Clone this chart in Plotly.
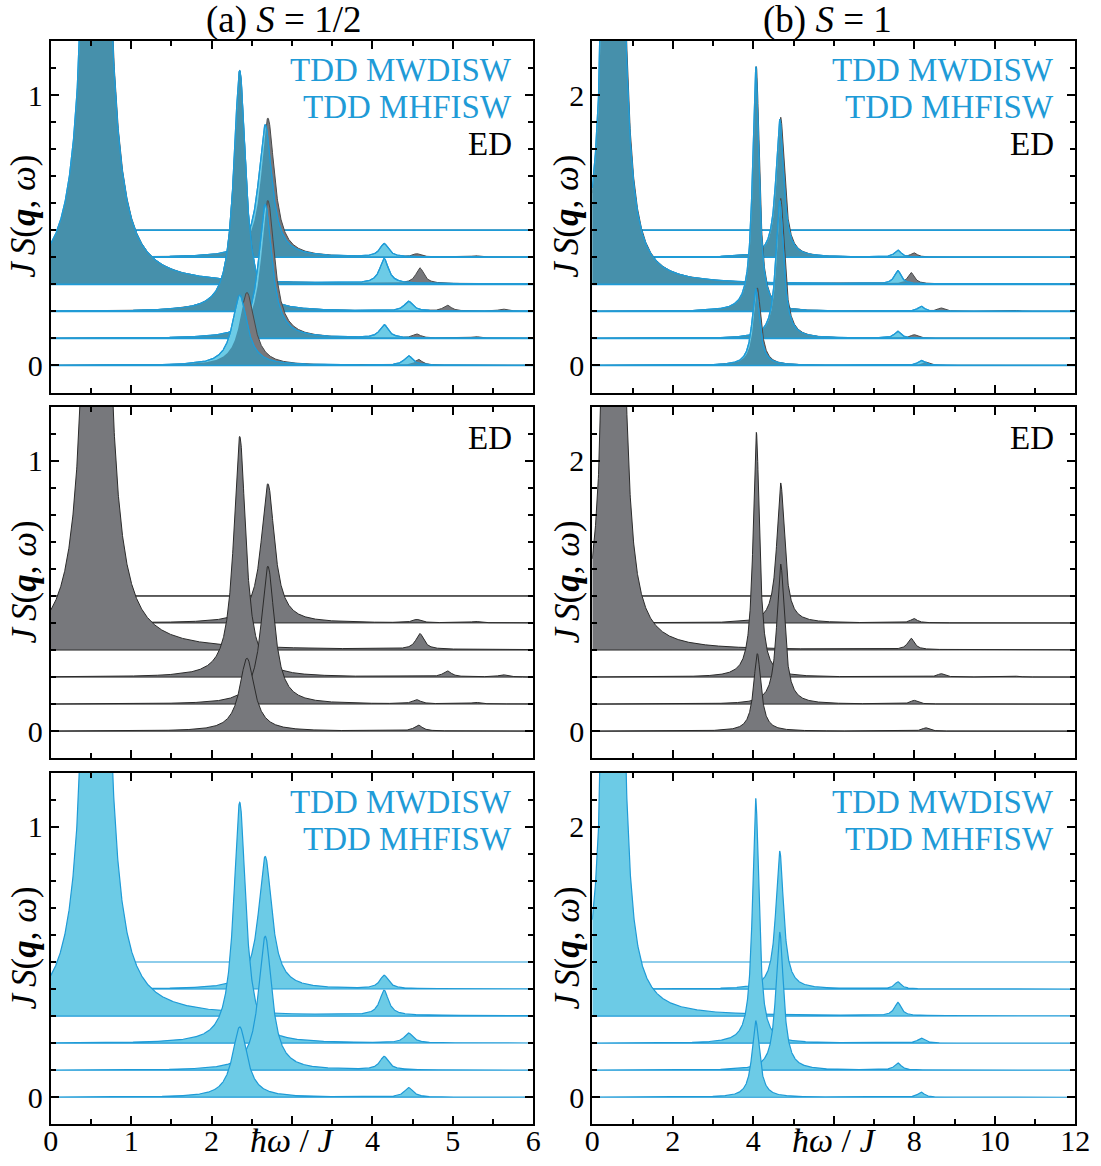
import numpy as np
import plotly.graph_objects as go

# ---------------- data ----------------
# Each spectrum row = list of peaks (centre, peak height, half width) in units of hbar*omega/J.
# Rows are listed from the lowest curve (offset 0) to the highest.
ed_half_rows = [
    [(2.44, 0.27, 0.11), (4.57, 0.022, 0.06)],
    [(2.70, 0.51, 0.10), (4.55, 0.015, 0.06), (5.28, 0.006, 0.06)],
    [(2.35, 0.89, 0.09), (4.93, 0.022, 0.06), (5.62, 0.008, 0.06)],
    [(0.57, 3.70, 0.116), (4.59, 0.058, 0.06)],
    [(2.70, 0.515, 0.10), (4.55, 0.012, 0.06), (5.28, 0.005, 0.06)],
    [],
]
tdd_half_rows = [
    [(2.35, 0.26, 0.11), (4.45, 0.035, 0.065)],
    [(2.667, 0.495, 0.10), (4.145, 0.049, 0.065)],
    [(2.35, 0.89, 0.09), (4.45, 0.036, 0.065)],
    [(0.565, 3.70, 0.116), (4.145, 0.092, 0.065)],
    [(2.667, 0.49, 0.10), (4.145, 0.049, 0.065)],
    [],
]
ed_one_rows = [
    [(4.10, 0.573, 0.11), (8.28, 0.025, 0.10)],
    [(4.68, 1.036, 0.115), (7.99, 0.027, 0.10), (10.6, 0.005, 0.10)],
    [(4.075, 1.81, 0.095), (8.66, 0.025, 0.10), (10.55, 0.006, 0.10)],
    [(0.535, 23.0, 0.093), (7.92, 0.084, 0.10)],
    [(4.68, 1.036, 0.115), (7.99, 0.032, 0.10)],
    [],
]
tdd_one_rows = [
    [(4.06, 0.566, 0.11), (8.17, 0.037, 0.10)],
    [(4.656, 1.02, 0.115), (7.59, 0.052, 0.10)],
    [(4.06, 1.81, 0.095), (8.17, 0.037, 0.10)],
    [(0.52, 23.0, 0.093), (7.59, 0.098, 0.10)],
    [(4.656, 1.02, 0.115), (7.59, 0.052, 0.10)],
    [],
]
offsets_half = [0.0, 0.1, 0.2, 0.3, 0.4, 0.5]
offsets_one = [0.0, 0.2, 0.4, 0.6, 0.8, 1.0]

x_range_half = [0, 6]
x_range_one = [0, 12]
y_range_half = [-0.1, 1.2]
y_range_one = [-0.2, 2.4]
xtick_half = [0, 1, 2, 3, 4, 5, 6]
xtick_one = [0, 2, 4, 6, 8, 10, 12]
xticktext_half = ["0", "1", "2", "", "4", "5", "6"]
xticktext_one = ["0", "2", "4", "", "8", "10", "12"]
xlabel = "<i>ħω</i> / <i>J</i>"
ytick_half = [0, 1]
ytick_one = [0, 2]
titles = ["(a) <i>S</i> = 1/2", "(b) <i>S</i> = 1"]
ylabel = "<i>J</i>\u2009<i>S</i>(<b><i>q</i></b>, <i>ω</i>)"
legend_tdd = ["TDD MWDISW", "TDD MHFISW"]
legend_ed = "ED"

# ---------------- style ----------------
W, H = 1101, 1166
FONT = "Liberation Serif"
GRAY = "#77787c"
GRAY_LINE = "#2b2b2b"
LBLUE = "#6ccbe6"
BLUE = "#1f9bd7"
TEAL = "#4690ab"

col_px = [(50.7, 533.3), (592.3, 1075.3)]
row_px = [(41.0, 392.5), (406.7, 758.2), (772.7, 1124.3)]


def spectrum(x, peaks):
    s = np.zeros_like(x)
    for c, h, g in peaks:
        s += h * g * g / ((x - c) ** 2 + g * g)
    return s


fig = go.Figure()


def poly(xax, yax, x, top, base, fill, line, lw):
    xs = np.concatenate([x, x[::-1]])
    ys = np.concatenate([top, np.full_like(x, base)])
    fig.add_trace(go.Scatter(x=xs, y=ys, mode="lines", fill="toself",
                             fillcolor=fill,
                             line=dict(color=line, width=lw),
                             xaxis=xax, yaxis=yax, hoverinfo="skip"))


def line(xax, yax, x, y, color, lw):
    fig.add_trace(go.Scatter(x=x, y=y, mode="lines",
                             line=dict(color=color, width=lw),
                             xaxis=xax, yaxis=yax, hoverinfo="skip"))


cols = [
    dict(ed=ed_half_rows, tdd=tdd_half_rows, off=offsets_half, xr=x_range_half,
         yr=y_range_half, xt=xtick_half, xtt=xticktext_half, yt=ytick_half,
         xminor=0.5, yminor=0.1),
    dict(ed=ed_one_rows, tdd=tdd_one_rows, off=offsets_one, xr=x_range_one,
         yr=y_range_one, xt=xtick_one, xtt=xticktext_one, yt=ytick_one,
         xminor=1, yminor=0.2),
]

layout = {}
for r in range(3):
    for c in range(2):
        k = r * 2 + c + 1
        xa = "x" if k == 1 else f"x{k}"
        ya = "y" if k == 1 else f"y{k}"
        d = cols[c]
        x = np.linspace(d["xr"][0], d["xr"][1], 2401)
        for i in range(5, -1, -1):
            off = d["off"][i]
            ed = off + spectrum(x, d["ed"][i])
            td = off + spectrum(x, d["tdd"][i])
            if r == 0:
                poly(xa, ya, x, ed, off, GRAY, "#4a4a4a", 1.0)
                poly(xa, ya, x, td, off, LBLUE, BLUE, 1.2)
                poly(xa, ya, x, np.minimum(ed, td), off, TEAL, "rgba(0,0,0,0)", 0)
                line(xa, ya, x, td, BLUE, 1.2)
                line(xa, ya, x, np.full_like(x, off), BLUE, 1.6)
            elif r == 1:
                poly(xa, ya, x, ed, off, GRAY, GRAY_LINE, 1.0)
            else:
                poly(xa, ya, x, td, off, LBLUE, BLUE, 1.2)

        x0, x1 = col_px[c]
        y0, y1 = row_px[r]
        axcommon = dict(showline=True, linewidth=2, linecolor="black", mirror="ticks",
                        ticks="inside", ticklen=8, tickwidth=1.8, tickcolor="black",
                        showgrid=False, zeroline=False, fixedrange=True,
                        automargin=False,
                        tickfont=dict(family=FONT, size=30, color="black"))
        layout["xaxis" if k == 1 else f"xaxis{k}"] = dict(
            axcommon, domain=[x0 / W, x1 / W], anchor=ya, range=d["xr"],
            tickmode="array", tickvals=d["xt"], ticktext=d["xtt"],
            showticklabels=(r == 2), ticklabelstandoff=-11,
            minor=dict(tickmode="linear", tick0=0, dtick=d["xminor"], ticks="inside",
                       ticklen=5, tickwidth=1.5, tickcolor="black"))
        layout["yaxis" if k == 1 else f"yaxis{k}"] = dict(
            axcommon, domain=[1 - y1 / H, 1 - y0 / H], anchor=xa, range=d["yr"],
            tickmode="array", tickvals=d["yt"], ticktext=[str(v) for v in d["yt"]],
            minor=dict(tickmode="linear", tick0=0, dtick=d["yminor"], ticks="inside",
                       ticklen=5, tickwidth=1.5, tickcolor="black"))

ann = []


def text(px, py, s, color="black", size=33, xanchor="right", angle=0):
    ann.append(dict(x=px / W, y=1 - py / H, xref="paper", yref="paper", text=s,
                    showarrow=False, xanchor=xanchor, yanchor="middle",
                    textangle=angle,
                    font=dict(family=FONT, size=size, color=color)))


# column titles
text(283, 20, titles[0], size=37, xanchor="center")
text(827, 20, titles[1], size=37, xanchor="center")

# x-axis labels in place of the middle tick label
text(292, 1140, xlabel, size=34, xanchor="center")
text(834, 1140, xlabel, size=34, xanchor="center")

# y-axis labels
for r in range(3):
    cy = (row_px[r][0] + row_px[r][1]) / 2
    text(24, cy, ylabel, size=35, xanchor="center", angle=-90)
    text(567, cy, ylabel, size=35, xanchor="center", angle=-90)

# in-panel labels
for rx in (514, 1056):
    text(rx, 70.0, legend_tdd[0], BLUE)
    text(rx, 107.0, legend_tdd[1], BLUE)
    text(rx, 143.5, legend_ed, "black")
    text(rx, 438, legend_ed, "black")
    text(rx, 802.0, legend_tdd[0], BLUE)
    text(rx, 839.0, legend_tdd[1], BLUE)

fig.update_layout(**layout)
fig.update_layout(width=W, height=H, margin=dict(l=0, r=0, t=0, b=0),
                  paper_bgcolor="white", plot_bgcolor="white",
                  showlegend=False, annotations=ann,
                  font=dict(family=FONT, color="black"))

fig.write_html("out.html")
